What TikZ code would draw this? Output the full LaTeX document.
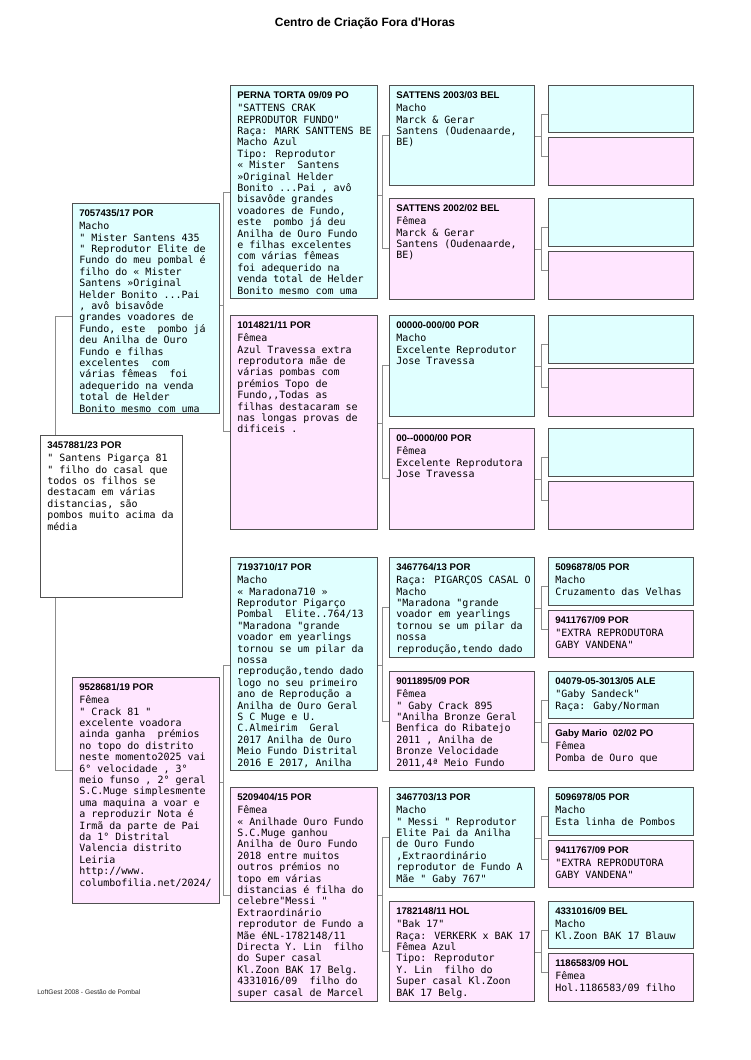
\documentclass[tikz,border=0pt]{standalone}
\usepackage{fontspec}
\setmainfont{Liberation Sans}
\newfontfamily\hdrsans[Ligatures=TeXOff]{Liberation Sans}
\newfontfamily\bodymono[Ligatures=TeXOff]{DejaVu Sans Mono}
\usetikzlibrary{calc}
\pgfdeclarelayer{bg}
\pgfsetlayers{bg,main}
\definecolor{mcyan}{HTML}{E0FFFF}
\definecolor{fpink}{HTML}{FFE6FF}
\definecolor{bord}{HTML}{505050}
\definecolor{connc}{HTML}{8C8C8C}
\tikzset{
  pbox/.style={draw=bord, line width=0.75pt, anchor=north west, inner sep=0pt, outer sep=0pt},
  hdr/.style={anchor=base west, inner sep=0pt, font=\hdrsans\bfseries\fontsize{7.2}{8}\selectfont},
  bodytxt/.style={anchor=north west, inner sep=0pt, align=left, font=\bodymono\fontsize{7.5}{8.55}\selectfont},
  link/.style={draw=connc, line width=0.75pt},
}
% name, fill, x, y, w, h, header, body
\newcommand\pedbox[8]{%
  \node[pbox, fill=#2, minimum width=#5*0.75pt, minimum height=#6*0.75pt] (#1) at (#3,#4) {};
  \node[hdr] (#1-h) at ([shift={(7,13.4)}]#1.north west) {#7};
  \node[bodytxt] (#1-b) at ([shift={(7,18.5)}]#1.north west) {\strut #8};
}
\newcommand\blankbox[6]{%
  \node[pbox, fill=#2, minimum width=#5*0.75pt, minimum height=#6*0.75pt] (#1) at (#3,#4) {};
}
% parent, child1, child2, parent offset, child1 offset, child2 offset
\newcommand\rbracket[6]{%
  \path ([shift={(0,#4)}]#1.north east) coordinate (#1-o)
        ([shift={(-6.5,#5)}]#2.north west) coordinate (#2-v)
        ([shift={(-6.5,#6)}]#3.north west) coordinate (#3-v);
  \draw[link] (#1-o) -- (#1-o -| #2-v);
  \draw[link] ([shift={(0,#5)}]#2.north west) -- (#2-v) -- (#3-v) -- ([shift={(0,#6)}]#3.north west);
}
\begin{document}
\begin{tikzpicture}[x=0.75pt,y=-0.75pt]
\useasboundingbox (0,0) rectangle (750,1060);

\node[font=\hdrsans\bfseries\fontsize{9}{10}\selectfont, inner sep=0pt] (title) at (365,23) {Centro de Criação Fora d'Horas};
\node[anchor=west, inner sep=0pt, font=\hdrsans\fontsize{5}{6}\selectfont, text=black!85] (foot) at (37,992) {LoftGest 2008 - Gestão de Pombal};

% generation 1
\pedbox{S}{white}{40}{435}{142}{162}{3457881/23 POR}{%
" Santens Pigarça 81\\
" filho do casal que\\
todos os filhos se\\
destacam em várias\\
distancias, são\\
pombos muito acima da\\
média}

% generation 2
\pedbox{P}{mcyan}{72}{203}{147}{210}{7057435/17 POR}{%
Macho\\
" Mister Santens 435\\
" Reprodutor Elite de\\
Fundo do meu pombal é\\
filho do « Mister\\
Santens »Original\\
Helder Bonito ...Pai\\
, avô bisavôde\\
grandes voadores de\\
Fundo, este~ pombo já\\
deu Anilha de Ouro\\
Fundo e filhas\\
excelentes~ com\\
várias fêmeas~ foi\\
adequerido na venda\\
total de Helder\\
Bonito mesmo com uma}

\pedbox{M}{fpink}{72}{677}{147}{226}{9528681/19 POR}{%
Fêmea\\
" Crack 81 "\\
excelente voadora\\
ainda ganha~ prémios\\
no topo do distrito\\
neste momento2025 vai\\
6° velocidade , 3°\\
meio funso , 2° geral\\
S.C.Muge simplesmente\\
uma maquina a voar e\\
a reproduzir Nota é\\
Irmã da parte de Pai\\
da 1° Distrital\\
Valencia distrito\\
Leiria\\
http://www.\\
columbofilia.net/2024/}

% generation 3
\pedbox{PP}{mcyan}{230}{85}{147}{213}{PERNA TORTA 09/09 PO}{%
"SATTENS CRAK\\
REPRODUTOR FUNDO"\\
Raça: MARK SANTTENS BE\\
Macho Azul\\
Tipo: Reprodutor\\
« Mister~ Santens\\
»Original Helder\\
Bonito ...Pai , avô\\
bisavôde grandes\\
voadores de Fundo,\\
este~ pombo já deu\\
Anilha de Ouro Fundo\\
e filhas excelentes\\
com várias fêmeas\\
foi adequerido na\\
venda total de Helder\\
Bonito mesmo com uma}

\pedbox{PM}{fpink}{230}{315}{147}{214}{1014821/11 POR}{%
Fêmea\\
Azul Travessa extra\\
reprodutora mãe de\\
várias pombas com\\
prémios Topo de\\
Fundo,,Todas as\\
filhas destacaram se\\
nas longas provas de\\
dificeis .}

\pedbox{MP}{mcyan}{230}{557}{147}{213}{7193710/17 POR}{%
Macho\\
« Maradona710 »\\
Reprodutor Pigarço\\
Pombal~ Elite..764/13\\
"Maradona "grande\\
voador em yearlings\\
tornou se um pilar da\\
nossa\\
reprodução,tendo dado\\
logo no seu primeiro\\
ano de Reprodução a\\
Anilha de Ouro Geral\\
S C Muge e U.\\
C.Almeirim~ Geral\\
2017 Anilha de Ouro\\
Meio Fundo Distrital\\
2016 E 2017, Anilha}

\pedbox{MM}{fpink}{230}{787}{147}{214}{5209404/15 POR}{%
Fêmea\\
« Anilhade Ouro Fundo\\
S.C.Muge ganhou\\
Anilha de Ouro Fundo\\
2018 entre muitos\\
outros prémios no\\
topo em várias\\
distancias é filha do\\
celebre"Messi "\\
Extraordinário\\
reprodutor de Fundo a\\
Mãe éNL-1782148/11\\
Directa Y. Lin~ filho\\
do Super casal\\
Kl.Zoon BAK 17 Belg.\\
4331016/09~ filho do\\
super casal de Marcel}

% generation 4
\pedbox{PPP}{mcyan}{389}{85}{145}{100}{SATTENS 2003/03 BEL}{%
Macho\\
Marck \& Gerar\\
Santens (Oudenaarde,\\
BE)}
\pedbox{PPM}{fpink}{389}{198}{145}{101}{SATTENS 2002/02 BEL}{%
Fêmea\\
Marck \& Gerar\\
Santens (Oudenaarde,\\
BE)}
\pedbox{PMP}{mcyan}{389}{315}{145}{101}{00000-000/00 POR}{%
Macho\\
Excelente Reprodutor\\
Jose Travessa}
\pedbox{PMM}{fpink}{389}{428}{145}{101}{00-{}-0000/00 POR}{%
Fêmea\\
Excelente Reprodutora\\
Jose Travessa}
\pedbox{MPP}{mcyan}{389}{557}{145}{100}{3467764/13 POR}{%
Raça: PIGARÇOS CASAL O\\
Macho\\
"Maradona "grande\\
voador em yearlings\\
tornou se um pilar da\\
nossa\\
reprodução,tendo dado}
\pedbox{MPM}{fpink}{389}{671}{145}{99}{9011895/09 POR}{%
Fêmea\\
" Gaby Crack 895\\
"Anilha Bronze Geral\\
Benfica do Ribatejo\\
2011 , Anilha de\\
Bronze Velocidade\\
2011,4ª Meio Fundo}
\pedbox{MMP}{mcyan}{389}{787}{145}{100}{3467703/13 POR}{%
Macho\\
" Messi " Reprodutor\\
Elite Pai da Anilha\\
de Ouro Fundo\\
,Extraordinário\\
reprodutor de Fundo A\\
Mãe " Gaby 767"}
\pedbox{MMM}{fpink}{389}{901}{145}{100}{1782148/11 HOL}{%
"Bak 17"\\
Raça: VERKERK x BAK 17\\
Fêmea Azul\\
Tipo: Reprodutor\\
Y. Lin~ filho do\\
Super casal Kl.Zoon\\
BAK 17 Belg.}

% generation 5
\blankbox{g1}{mcyan}{548}{85}{145}{47}
\blankbox{g2}{fpink}{548}{137}{145}{48}
\blankbox{g3}{mcyan}{548}{198}{145}{48}
\blankbox{g4}{fpink}{548}{251}{145}{48}
\blankbox{g5}{mcyan}{548}{315}{145}{48}
\blankbox{g6}{fpink}{548}{368}{145}{48}
\blankbox{g7}{mcyan}{548}{428}{145}{48}
\blankbox{g8}{fpink}{548}{481}{145}{48}
\pedbox{g9}{mcyan}{548}{557}{145}{48}{5096878/05 POR}{%
Macho\\
Cruzamento das Velhas}
\pedbox{g10}{fpink}{548}{610}{145}{47}{9411767/09 POR}{%
"EXTRA REPRODUTORA\\
GABY VANDENA"}
\pedbox{g11}{mcyan}{548}{671}{145}{47}{04079-05-3013/05 ALE}{%
"Gaby Sandeck"\\
Raça: Gaby/Norman}
\pedbox{g12}{fpink}{548}{723}{145}{47}{Gaby Mario~ 02/02 PO}{%
Fêmea\\
Pomba de Ouro que}
\pedbox{g13}{mcyan}{548}{787}{145}{48}{5096978/05 POR}{%
Macho\\
Esta linha de Pombos}
\pedbox{g14}{fpink}{548}{840}{145}{47}{9411767/09 POR}{%
"EXTRA REPRODUTORA\\
GABY VANDENA"}
\pedbox{g15}{mcyan}{548}{901}{145}{47}{4331016/09 BEL}{%
Macho\\
Kl.Zoon BAK 17 Blauw}
\pedbox{g16}{fpink}{548}{953}{145}{48}{1186583/09 HOL}{%
Fêmea\\
Hol.1186583/09 filho}

% connectors
\begin{pgfonlayer}{bg}
\draw[link] ([shift={(0,113)}]P.north west) -| ([shift={(15,0)}]S.north west);
\draw[link] ([shift={(0,93)}]M.north west) -| ([shift={(15,0)}]S.south west);
\rbracket{P}{PP}{PM}{102}{107}{116}
\rbracket{M}{MP}{MM}{105}{108}{108}
\rbracket{PP}{PPP}{PPM}{110}{50}{50}
\rbracket{PM}{PMP}{PMM}{108}{50}{50}
\rbracket{MP}{MPP}{MPM}{108}{50}{50}
\rbracket{MM}{MMP}{MMM}{108}{50}{50}
\rbracket{PPP}{g1}{g2}{51}{29}{19}
\rbracket{PPM}{g3}{g4}{51}{29}{19}
\rbracket{PMP}{g5}{g6}{51}{29}{19}
\rbracket{PMM}{g7}{g8}{51}{29}{19}
\rbracket{MPP}{g9}{g10}{51}{29}{19}
\rbracket{MPM}{g11}{g12}{51}{29}{19}
\rbracket{MMP}{g13}{g14}{51}{29}{19}
\rbracket{MMM}{g15}{g16}{51}{29}{19}
\end{pgfonlayer}
\end{tikzpicture}
\end{document}
